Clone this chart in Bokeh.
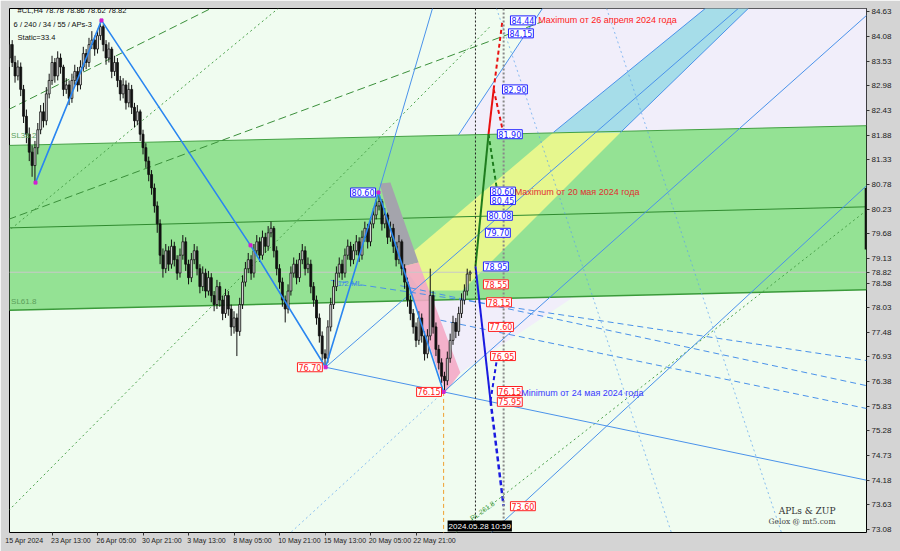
from bokeh.plotting import figure
from bokeh.models import Range1d, FixedTicker, Label, Span
from bokeh.embed import file_html
from bokeh.resources import INLINE

# ---------------- data ----------------
x_tick_pos = [0.0, 16.2, 32.0, 48.2, 64.0, 80.2, 96.0, 112.2, 128.0, 144.2]
x_label_pos = [6.3, 22.7, 38.7, 54.7, 70.3, 86.5, 103.0, 119.0, 134.8, 150.5]
x_tick_labels = ["15 Apr 2024", "23 Apr 13:00", "26 Apr 05:00", "30 Apr 21:00", "3 May 13:00",
                 "8 May 05:00", "10 May 21:00", "15 May 13:00", "20 May 05:00", "22 May 21:00"]
y_ticks = [73.08, 73.63, 74.18, 74.73, 75.28, 75.83, 76.38, 76.93, 77.48, 78.03, 78.58,
           79.13, 79.68, 80.23, 80.78, 81.33, 81.88, 82.43, 82.98, 83.53, 84.08, 84.63]

first_open = 83.40
close = [83.60, 83.90, 83.50, 83.20, 83.40, 82.90, 82.30, 81.90, 81.50, 81.20,
         81.60, 82.00, 82.40, 82.20, 82.80, 83.10, 83.50, 83.20, 83.60, 83.40,
         82.90, 83.00, 82.70, 83.10, 83.30, 83.00, 83.40, 83.70, 83.50, 83.90,
         84.00, 83.80, 84.10, 84.30, 83.90, 83.60, 83.80, 83.30, 83.50, 83.10,
         82.80, 83.00, 82.60, 82.90, 82.50, 82.20, 82.40, 81.90, 81.60, 81.30,
         81.00, 80.70, 80.30, 79.90, 79.20, 78.90, 79.30, 79.00, 79.40, 79.10,
         78.80, 79.20, 79.50, 79.00, 78.70, 79.10, 79.30, 78.90, 78.50, 78.80,
         78.40, 78.70, 78.30, 78.10, 78.50, 78.20, 77.90, 78.30, 78.00, 77.60,
         77.80, 77.50, 78.10, 78.60, 78.90, 79.10, 78.80, 79.30, 79.50, 79.20,
         79.60, 79.40, 79.70, 79.80, 79.30, 78.90, 78.60, 78.20, 78.00, 78.40,
         78.80, 79.00, 78.70, 79.10, 79.30, 78.90, 79.00, 78.50, 78.20, 77.80,
         77.40, 77.00, 76.90, 77.60, 78.10, 78.50, 78.80, 79.00, 78.80, 79.20,
         79.40, 79.10, 79.30, 79.50, 79.20, 79.60, 79.80, 79.50, 79.90, 80.10,
         80.30, 80.40, 79.90, 80.10, 79.60, 79.80, 79.40, 79.10, 79.50, 78.90,
         78.60, 78.20, 77.90, 77.60, 77.30, 77.80, 77.40, 77.00, 77.40, 78.30,
         77.60, 77.10, 76.80, 76.50, 76.40, 76.90, 77.30, 77.70, 77.50, 77.90,
         78.20, 78.40, 78.78, 78.82]
high = [83.85, 84.05, 84.00, 83.65, 83.55, 83.50, 83.00, 82.45, 82.05, 81.65,
        81.75, 82.15, 82.55, 82.60, 82.95, 83.25, 83.65, 83.60, 83.75, 83.70,
        83.45, 83.15, 83.10, 83.25, 83.45, 83.40, 83.55, 83.85, 83.80, 84.05,
        84.20, 84.10, 84.25, 84.44, 84.35, 84.00, 83.95, 83.85, 83.65, 83.60,
        83.20, 83.15, 83.10, 83.05, 83.00, 82.60, 82.55, 82.45, 82.00, 81.70,
        81.40, 81.10, 80.80, 80.40, 80.00, 79.35, 79.45, 79.40, 79.55, 79.50,
        79.20, 79.35, 79.65, 79.60, 79.10, 79.25, 79.45, 79.40, 79.00, 78.95,
        78.90, 78.85, 78.80, 78.40, 78.65, 78.60, 78.30, 78.45, 78.40, 78.10,
        77.95, 77.90, 78.25, 78.75, 79.05, 79.25, 79.20, 79.45, 79.65, 79.60,
        79.75, 79.70, 79.85, 79.95, 79.85, 79.40, 79.00, 78.70, 78.30, 78.55,
        78.95, 79.15, 79.10, 79.25, 79.45, 79.40, 79.15, 79.10, 78.60, 78.30,
        77.90, 77.50, 77.10, 77.75, 78.25, 78.65, 78.95, 79.15, 79.10, 79.35,
        79.55, 79.50, 79.45, 79.65, 79.60, 79.75, 79.95, 79.90, 80.05, 80.25,
        80.45, 80.60, 80.45, 80.25, 80.15, 79.95, 79.90, 79.50, 79.65, 79.55,
        79.00, 78.70, 78.30, 78.00, 77.70, 77.95, 77.90, 77.50, 77.55, 78.90,
        78.40, 77.70, 77.20, 76.90, 76.60, 77.05, 77.45, 77.85, 77.80, 78.05,
        78.35, 78.55, 78.90, 78.86]
low = [83.25, 83.50, 83.40, 83.05, 83.10, 82.75, 82.15, 81.70, 81.30, 80.95,
       80.82, 81.45, 81.90, 82.05, 82.10, 82.70, 83.00, 83.05, 83.10, 83.25,
       82.75, 82.80, 82.55, 82.60, 83.00, 82.85, 82.90, 83.30, 83.35, 83.40,
       83.80, 83.65, 83.70, 84.00, 83.75, 83.45, 83.50, 83.15, 83.20, 82.95,
       82.65, 82.70, 82.45, 82.50, 82.35, 82.05, 82.10, 81.75, 81.45, 81.15,
       80.85, 80.55, 80.15, 79.70, 79.00, 78.70, 78.80, 78.85, 78.90, 78.95,
       78.65, 78.70, 79.10, 78.85, 78.55, 78.60, 79.00, 78.75, 78.35, 78.40,
       78.25, 78.30, 78.15, 77.95, 78.00, 78.05, 77.75, 77.80, 77.85, 77.40,
       77.45, 76.95, 77.40, 78.00, 78.50, 78.80, 78.65, 78.70, 79.20, 79.05,
       79.10, 79.25, 79.30, 79.60, 79.15, 78.75, 78.45, 78.05, 77.70, 77.90,
       78.30, 78.70, 78.55, 78.60, 79.00, 78.75, 78.80, 78.35, 78.05, 77.65,
       77.25, 76.85, 76.70, 76.80, 77.50, 78.00, 78.40, 78.70, 78.65, 78.70,
       79.10, 78.95, 79.00, 79.20, 79.05, 79.10, 79.50, 79.35, 79.40, 79.80,
       80.00, 80.20, 79.75, 79.80, 79.45, 79.50, 79.25, 78.95, 79.00, 78.75,
       78.45, 78.05, 77.75, 77.45, 77.15, 77.20, 77.25, 76.85, 76.90, 77.30,
       77.45, 76.95, 76.65, 76.35, 76.15, 76.30, 76.80, 77.20, 77.35, 77.40,
       77.80, 78.10, 78.30, 78.62]

# zigzag pivots (bar index, price)
zz_x = [10.2, 33.4, 85.8, 112.2, 130.8, 153.7]
zz_y = [80.82, 84.44, 79.42, 76.70, 80.60, 76.15]

# green channel (band) edges: left/right ends
band_x = [1.0, 302.4]
band_top = [81.65, 82.09]
band_mid = [79.81, 80.28]
band_bot = [77.97, 78.43]

# lavender zones
lav_up_x = [158.9, 188.5, 302.4, 302.4]
lav_up_y = [81.88, 84.71, 84.71, 82.09]
lav_lo_x = [149.1, 199.4, 159.6]
lav_lo_y = [78.20, 78.27, 76.58]

# cyan and yellow strip
cyan_x = [192.3, 215.9, 260.9, 245.8]
cyan_y = [81.94, 81.94, 84.71, 84.71]
yel_x = [138.5, 145.6, 160.3, 215.9, 192.3]
yel_y = [79.04, 78.41, 78.41, 81.94, 81.94]

# grey / pink strip from 80.60 to 76.15
grey_x = [131.2, 135.0, 144.9, 139.2]
grey_y = [80.80, 80.82, 79.04, 78.95]
pink_x = [139.2, 144.9, 159.6, 154.4]
pink_y = [78.95, 79.04, 76.58, 76.14]

# solid blue pitchfork lines  (x0, y0, x1, y1)
pf_solid = [(112.2, 76.70, 302.4, 74.18),
            (130.8, 80.60, 149.8, 84.71),
            (153.7, 76.15, 302.4, 84.55),
            (112.2, 76.70, 257.4, 84.71),
            (158.9, 81.88, 188.5, 84.71),
            (192.3, 81.94, 245.8, 84.71),
            (215.9, 81.94, 260.9, 84.71),
            (170.5, 73.01, 302.4, 80.75)]
# dotted light-blue lines
pf_dot = [(153.7, 76.15, 99.9, 73.01),
          (172.3, 84.71, 233.8, 73.01),
          (211.0, 84.71, 272.5, 73.01)]
# dashed blue median lines
pf_dash = [(114.0, 78.64, 302.4, 76.85),
           (138.5, 78.52, 302.4, 76.29),
           (152.6, 77.75, 302.4, 75.78)]
# green dashed / dotted fan lines
green_dash = [(0.7, 80.00, 188.0, 84.40),
              (0.7, 82.45, 72.0, 84.71)]
green_dot = [(0.3, 79.72, 95.6, 84.71),
             (0.7, 73.50, 170.0, 84.30),
             (158.0, 73.01, 302.4, 80.20)]

# forecast paths
fc_green = ([164.9, 169.5], [78.95, 81.90])
fc_green_d = ([169.5, 172.6], [81.90, 80.60])
fc_red = ([169.5, 171.3], [81.90, 82.90])
fc_red_d1 = ([171.3, 174.4], [82.90, 84.44])
fc_red_d2 = ([171.3, 174.8], [82.90, 81.90])
fc_blue = ([164.9, 170.2], [78.95, 75.95])
fc_blue_d1 = ([170.2, 172.6], [75.95, 76.95])
fc_blue_d2 = ([170.2, 174.8], [75.95, 73.60])

# price level labels: (text, bar index of left edge, price)
blue_labels = [("84.44", 177.2, 84.44), ("84.15", 176.5, 84.15), ("82.90", 174.4, 82.90),
               ("81.90", 172.6, 81.90), ("80.60", 170.2, 80.62), ("80.45", 170.2, 80.43),
               ("80.08", 169.1, 80.08), ("79.70", 168.4, 79.70), ("78.95", 167.7, 78.95),
               ("80.60", 121.0, 80.60)]
red_labels = [("78.55", 167.7, 78.55), ("78.15", 168.8, 78.15), ("77.60", 169.5, 77.60),
              ("76.95", 170.2, 76.95), ("76.15", 172.6, 76.17), ("75.95", 172.6, 75.93),
              ("73.60", 177.2, 73.60), ("76.70", 102.3, 76.70), ("76.15", 144.2, 76.15)]

now_bar = 164.9
grid_bar = 174.8
last_price = 78.82
marker_bar = ([302.3, 302.3], [79.33, 80.70])

# ---------------- figure ----------------
p = figure(width=900, height=551, output_backend="svg", toolbar_location=None,
           x_range=Range1d(1.05, 302.4), y_range=Range1d(73.013, 84.705),
           y_axis_location="right", min_border_left=9, min_border_top=8,
           min_border_right=34, min_border_bottom=19,
           background_fill_color="#f0fcf0", border_fill_color="#d4d4d4",
           outline_line_color="#000000")
p.grid.visible = False

def style_axis(ax):
    ax.axis_line_color = None
    ax.major_tick_line_color = "#333333"
    ax.major_tick_in = 0
    ax.major_tick_out = 3
    ax.minor_tick_line_color = None
    ax.major_label_text_font = "Liberation Sans"
    ax.major_label_text_font_size = "8px"
    ax.major_label_text_color = "#222222"
    ax.major_label_standoff = 2

# bottom axis: labels sit right of their tick marks (tick marks drawn as minor ticks)
xa = p.xaxis[0]
xa.ticker = FixedTicker(ticks=x_label_pos, minor_ticks=x_tick_pos)
xa.major_label_overrides = {t: l for t, l in zip(x_label_pos, x_tick_labels)}
style_axis(xa)
xa.major_tick_line_color = None
xa.minor_tick_line_color = "#333333"
xa.minor_tick_in = 0
xa.minor_tick_out = 3
xa.major_tick_out = 3
xa.major_label_standoff = 1
xa.major_label_text_font_size = "7px"

ya = p.yaxis[0]
ya.ticker = FixedTicker(ticks=y_ticks + [last_price])
ya.major_label_overrides = {t: f"{t:.2f}" for t in y_ticks + [last_price]}
style_axis(ya)

# zones
p.patch(lav_up_x, lav_up_y, fill_color="#f1eefa", line_color=None)
p.patch(band_x + band_x[::-1], band_top + band_bot[::-1], fill_color="#94e294", line_color=None)
p.patch(lav_lo_x, lav_lo_y, fill_color="#f1eefa", line_color=None)
p.patch(yel_x, yel_y, fill_color="#e6f78e", line_color=None)
p.patch(cyan_x, cyan_y, fill_color="#a6dde9", line_color=None)
p.line(band_x, band_top, line_color="#44a044", line_width=1)
p.line(band_x, band_bot, line_color="#3a9a3a", line_width=1.5)
p.line(band_x, band_mid, line_color="#2f8a2f", line_width=1)
p.patch(grey_x, grey_y, fill_color="#a4a4ac", line_color=None)
p.patch(pink_x, pink_y, fill_color="#f4a8c6", line_color=None, fill_alpha=0.9)

for lbl, px_, py_ in [("SL38.2", 1.6, 81.76), ("SL61.8", 1.6, 78.07)]:
    p.add_layout(Label(x=px_, y=py_, text=lbl, text_font="Liberation Sans", text_font_size="8px",
                       text_color="#5aa05a", text_baseline="bottom"))

# bid line
p.line([1.0, 302.4], [last_price, last_price], line_color="#c8c8c8", line_width=1)

for x0, y0, x1, y1 in green_dash:
    p.line([x0, x1], [y0, y1], line_color="#3a8f3a", line_width=1, line_dash="8 4")
for x0, y0, x1, y1 in green_dot:
    p.line([x0, x1], [y0, y1], line_color="#4aa04a", line_width=1, line_dash="2 3")
for x0, y0, x1, y1 in pf_solid:
    p.line([x0, x1], [y0, y1], line_color="#4a92ea", line_width=1)
for x0, y0, x1, y1 in pf_dot:
    p.line([x0, x1], [y0, y1], line_color="#5aa2ee", line_width=1, line_dash="2 3", line_alpha=0.7)
for x0, y0, x1, y1 in pf_dash:
    p.line([x0, x1], [y0, y1], line_color="#4a92ea", line_width=1, line_dash="6 4")

p.add_layout(Label(x=116.4, y=78.57, text="1/2 ML", text_font="Liberation Sans", text_font_size="8px",
                   text_color="#3a86e6", text_baseline="middle"))
p.add_layout(Label(x=164.0, y=73.25, text="RL 261.8", text_font="Liberation Sans", text_font_size="7px",
                   text_color="#4aa04a", angle=0.62))

# vertical markers
p.add_layout(Span(location=now_bar, dimension="height", line_color="#222222", line_dash="2 2", line_width=1))
p.add_layout(Span(location=grid_bar, dimension="height", line_color="#888888", line_dash="2 2", line_width=2))
p.line([zz_x[-1], zz_x[-1]], [zz_y[-1], 73.0], line_color="#f0a030", line_dash="4 3", line_width=1)
p.line(*marker_bar, line_color="#111111", line_width=3)

# candles
xs = list(range(len(close)))
opens = [first_open] + close[:-1]
p.segment(xs, low, xs, high, line_color="#111111", line_width=1)
up_x = [i for i in xs if close[i] >= opens[i]]
dn_x = [i for i in xs if close[i] < opens[i]]
p.vbar(up_x, 0.7, [close[i] for i in up_x], [opens[i] for i in up_x],
       fill_color="#d8d8d8", line_color="#111111", line_width=0.8)
p.vbar(dn_x, 0.7, [opens[i] for i in dn_x], [close[i] for i in dn_x],
       fill_color="#111111", line_color="#111111", line_width=0.8)

# zigzag
p.line(zz_x, zz_y, line_color="#2a86f0", line_width=1.6)
p.scatter(zz_x, zz_y, size=3, marker="square", color="#d020d0")

# forecast
p.line(*fc_green, line_color="#1e7d1e", line_width=2)
p.line(*fc_green_d, line_color="#1e7d1e", line_width=2, line_dash="4 3")
p.line(*fc_red, line_color="#e81010", line_width=2)
p.line(*fc_red_d1, line_color="#e81010", line_width=2, line_dash="4 3")
p.line(*fc_red_d2, line_color="#e81010", line_width=2, line_dash="4 3")
p.line(*fc_blue, line_color="#1a1ae0", line_width=2)
p.line(*fc_blue_d1, line_color="#1a1ae0", line_width=2, line_dash="4 3")
p.line(*fc_blue_d2, line_color="#1a1ae0", line_width=2.5, line_dash="5 3")

for txt, x, y in blue_labels:
    p.add_layout(Label(x=x, y=y, text=txt, text_font="DejaVu Sans", text_font_size="8px",
                       text_color="#2020ff", text_baseline="middle",
                       background_fill_color="white", border_line_color="#2020ff", padding=1))
for txt, x, y in red_labels:
    p.add_layout(Label(x=x, y=y, text=txt, text_font="DejaVu Sans", text_font_size="8px",
                       text_color="#ff2020", text_baseline="middle",
                       background_fill_color="white", border_line_color="#ff2020", padding=1))

p.add_layout(Label(x=187.0, y=84.44, text="Maximum от 26 апреля 2024 года", text_font="Liberation Sans",
                   text_font_size="9px", text_color="#ff2020", text_baseline="middle"))
p.add_layout(Label(x=178.7, y=80.62, text="Maximum от 20 мая 2024 года", text_font="Liberation Sans",
                   text_font_size="9px", text_color="#e03030", text_baseline="middle"))
p.add_layout(Label(x=181.0, y=76.13, text="Minimum от 24 мая 2024 года", text_font="Liberation Sans",
                   text_font_size="9px", text_color="#3a3aff", text_baseline="middle"))

# header
p.add_layout(Label(x=3.9, y=84.66, text="#CL,H4  78.78 78.86 78.62 78.82", text_font="Liberation Sans",
                   text_font_size="7.5px", text_color="#111111", text_baseline="middle"))
p.add_layout(Label(x=2.5, y=84.35, text="6 / 240 / 34 / 55 / APs-3", text_font="Liberation Sans",
                   text_font_size="7.5px", text_color="#111111", text_baseline="middle"))
p.add_layout(Label(x=3.9, y=84.06, text="Static=33.4", text_font="Liberation Sans",
                   text_font_size="7.5px", text_color="#111111", text_baseline="middle"))

# logo
p.add_layout(Label(x=291.5, y=73.50, text="APLs & ZUP", text_font="DejaVu Serif",
                   text_font_size="9px", text_color="#333333", text_align="right", text_baseline="middle"))
p.add_layout(Label(x=291.5, y=73.26, text="Gelox @ mt5.com", text_font="DejaVu Serif",
                   text_font_size="7.5px", text_color="#444444", text_align="right", text_baseline="middle"))

# current-time box (inside the frame, at its foot)
p.add_layout(Label(x=155.1, y=1, y_units="screen", text="2024.05.28 10:59", text_font="Liberation Sans",
                   text_font_size="8px", text_color="white", background_fill_color="black", padding=1))

open("out.html", "w").write(file_html(p, INLINE))
